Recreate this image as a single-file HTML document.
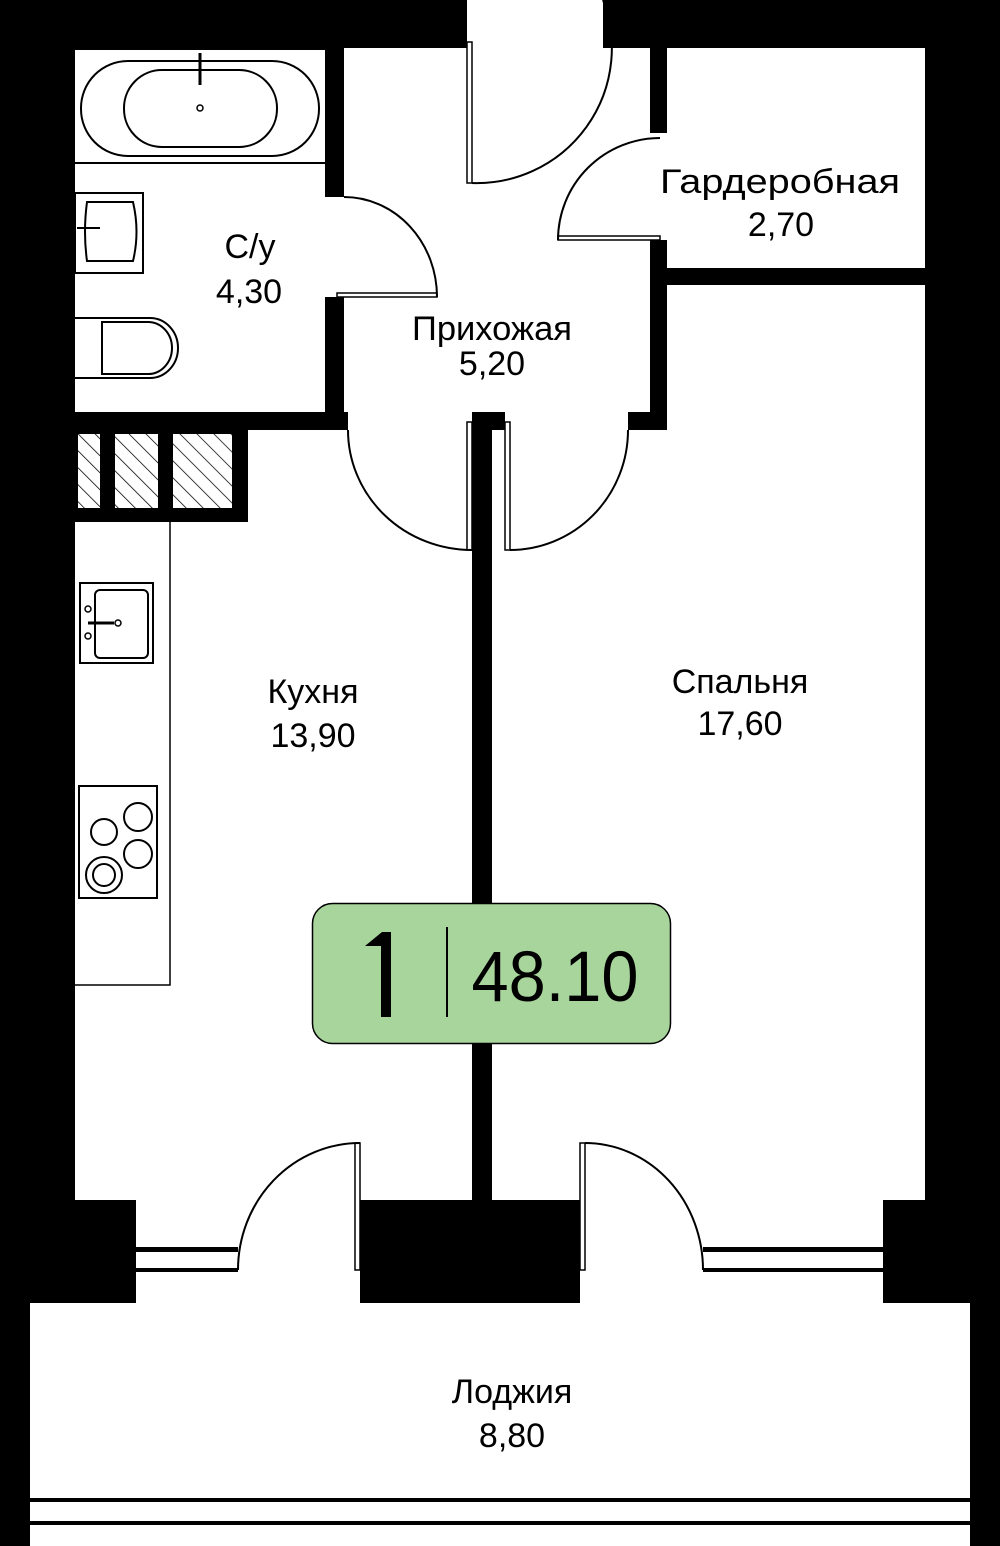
<!DOCTYPE html>
<html><head><meta charset="utf-8"><style>html,body{margin:0;padding:0;background:#000}svg{display:block}</style></head><body>
<svg width="1000" height="1546" viewBox="0 0 1000 1546" xmlns="http://www.w3.org/2000/svg">
<rect width="1000" height="1546" fill="#000"/>
<g fill="#fff">
<rect x="75" y="50" width="250" height="362"/>
<rect x="344" y="48" width="306" height="364"/>
<rect x="467" y="0" width="136" height="60"/>
<rect x="667" y="48" width="258" height="220"/>
<rect x="650" y="133" width="17" height="107"/>
<rect x="325" y="197" width="19" height="100"/>
<rect x="348" y="412" width="124" height="18"/>
<rect x="505" y="412" width="123" height="18"/>
<rect x="75" y="430" width="397" height="770"/>
<rect x="492" y="430" width="433" height="770"/>
<rect x="667" y="285" width="258" height="150"/>
<rect x="136" y="1200" width="224" height="103"/>
<rect x="580" y="1200" width="303" height="103"/>
<rect x="30" y="1303" width="940" height="243"/>
</g>
<g fill="#000">
<rect x="75" y="430" width="173" height="92"/>
<rect x="472" y="412" width="20" height="790"/>
<rect x="360" y="1200" width="220" height="103"/>
<rect x="136" y="1247" width="102" height="5"/>
<rect x="136" y="1268" width="102" height="4"/>
<rect x="703" y="1247" width="180" height="5"/>
<rect x="703" y="1268" width="180" height="4"/>
<rect x="30" y="1498" width="940" height="4"/>
<rect x="30" y="1521" width="940" height="4"/>
</g>
<defs><pattern id="h" width="12" height="12" patternUnits="userSpaceOnUse" patternTransform="rotate(-45)"><rect width="12" height="12" fill="#fff"/><line x1="0" y1="0" x2="0" y2="12" stroke="#000" stroke-width="1.5"/></pattern></defs>
<g fill="url(#h)">
<rect x="78" y="434" width="22" height="74"/>
<rect x="115" y="434" width="43" height="74"/>
<rect x="173" y="434" width="59" height="74"/>
</g>
<g fill="none" stroke="#000" stroke-width="2">
<line x1="75" y1="163" x2="325" y2="163"/>
<rect x="81" y="61" width="238" height="95" rx="47"/>
<rect x="124" y="70" width="153" height="77" rx="38"/>
<line x1="200" y1="53" x2="200" y2="85" stroke-width="3"/>
<circle cx="200" cy="108" r="3" stroke-width="1.5"/>
<rect x="75" y="193" width="68" height="80"/>
<path d="M87 202 H133 Q140 232 133 261 H87 Q83 232 87 202 Z"/>
<line x1="77" y1="228" x2="100" y2="228"/>
<path d="M75 318 H150 A28 30 0 0 1 150 378 H75"/>
<path d="M102 322 H148 A24 26 0 0 1 148 374 H102 Z"/>
<rect x="467" y="42" width="5" height="141" stroke-width="1.5"/>
<path d="M472 183 A135 135 0 0 0 603 0"/>
<rect x="337" y="293" width="100" height="4" stroke-width="1.5"/>
<path d="M344 197 A93 100 0 0 1 437 297"/>
<rect x="558" y="236" width="102" height="4" stroke-width="1.5"/>
<path d="M558 240 A102 102 0 0 1 660 138"/>
<rect x="467" y="422" width="5" height="128" stroke-width="1.5"/>
<path d="M348 430 A124 120 0 0 0 472 550"/>
<rect x="505" y="422" width="5" height="128" stroke-width="1.5"/>
<path d="M628 430 A118 120 0 0 1 510 550"/>
<rect x="355" y="1143" width="5" height="127" stroke-width="1.5"/>
<path d="M360 1143 A122 127 0 0 0 238 1270"/>
<rect x="580" y="1143" width="5" height="127" stroke-width="1.5"/>
<path d="M585 1143 A118 127 0 0 1 703 1270"/>
<polyline points="170,522 170,985 75,985" stroke-width="1.5"/>
<rect x="80" y="583" width="73" height="80"/>
<rect x="95" y="590" width="53" height="68" rx="5"/>
<circle cx="88" cy="609" r="3" stroke-width="1.5"/>
<circle cx="88" cy="636" r="3" stroke-width="1.5"/>
<circle cx="118" cy="623" r="3" stroke-width="1.5"/>
<line x1="88" y1="623" x2="114" y2="623" stroke-width="3"/>
<rect x="79" y="786" width="78" height="112"/>
<circle cx="104" cy="832" r="13"/>
<circle cx="138" cy="817" r="14"/>
<circle cx="138" cy="854" r="14"/>
<circle cx="104" cy="875" r="18"/>
<circle cx="104" cy="875" r="11"/>
</g>
<rect x="312.5" y="903.5" width="358" height="140" rx="20" fill="#a8d59c" stroke="#000" stroke-width="1.5"/>
<line x1="447" y1="927" x2="447" y2="1017" stroke="#000" stroke-width="2"/>
<path d="M365 946 L382 932 H391 V1017 H381 V946 Z" fill="#000"/>
<text x="555" y="1001" font-family="Liberation Sans, sans-serif" font-size="71" text-anchor="middle" textLength="167" lengthAdjust="spacingAndGlyphs">48.10</text>
<g font-family="Liberation Sans, sans-serif" fill="#000" text-anchor="middle" font-size="34">
<text x="780" y="193" textLength="240" lengthAdjust="spacingAndGlyphs">Гардеробная</text>
<text x="781" y="236">2,70</text>
<text x="250" y="258">С/у</text>
<text x="249" y="303">4,30</text>
<text x="492" y="340" textLength="160" lengthAdjust="spacingAndGlyphs">Прихожая</text>
<text x="492" y="375">5,20</text>
<text x="313" y="703">Кухня</text>
<text x="313" y="747">13,90</text>
<text x="740" y="693">Спальня</text>
<text x="740" y="735">17,60</text>
<text x="512" y="1403">Лоджия</text>
<text x="512" y="1447">8,80</text>
</g>
</svg>
</body></html>
